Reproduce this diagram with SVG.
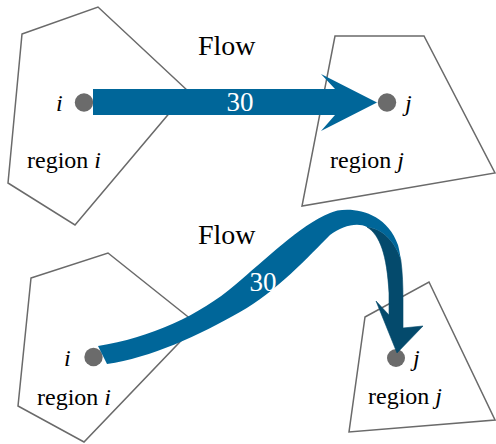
<svg xmlns="http://www.w3.org/2000/svg" width="496" height="444" viewBox="0 0 496 444">
<style>
.reg{fill:none;stroke:#6a6a6a;stroke-width:1.5;stroke-linejoin:miter}
.dot{fill:#6b6b6b}
.t{font-family:'Liberation Serif','Times New Roman',serif;fill:#000}
.it{font-style:italic}
.lbl{font-size:24px}
.flow{font-size:28px}
.num{font-family:'Liberation Serif','Times New Roman',serif;font-size:27px;fill:#fff;text-anchor:middle}
.light{fill:#006699}
.dark{fill:#044a6c}
</style>
<rect width="496" height="444" fill="#fff"/>
<g id="top-region-i">
<polygon class="reg" points="22,34 98,7 188,91 75,225 8,183"/>
<text class="t lbl" x="27" y="168">region <tspan class="it">i</tspan></text>
</g>
<g id="top-region-j">
<polygon class="reg" points="335,36 424,36 495,173 302,206"/>
<text class="t lbl" x="330" y="168">region <tspan class="it">j</tspan></text>
</g>
<g id="bottom-region-i">
<polygon class="reg" points="31,278 108,253 197,324 84,442 18,406"/>
<text class="t lbl" x="37" y="405">region <tspan class="it">i</tspan></text>
</g>
<g id="bottom-region-j">
<polygon class="reg" points="365,317 429,282 495,420 349,432"/>
<text class="t lbl" x="368" y="404">region <tspan class="it">j</tspan></text>
</g>
<text class="t flow" x="198" y="55">Flow</text>
<text class="t flow" x="198" y="244">Flow</text>
<g id="top-node-i">
<circle class="dot" cx="84" cy="102.5" r="9.2"/>
<text class="t lbl it" x="56" y="111">i</text>
</g>
<g id="top-node-j">
<circle class="dot" cx="387" cy="102.5" r="9.2"/>
<text class="t lbl it" x="405" y="111">j</text>
</g>
<g id="bottom-node-i">
<circle class="dot" cx="93.5" cy="357" r="9.2"/>
<text class="t lbl it" x="64" y="366">i</text>
</g>
<g id="bottom-node-j">
<circle class="dot" cx="396" cy="358" r="9"/>
<text class="t lbl it" x="413" y="366">j</text>
</g>
<g id="connectors">
<g id="top-flow">
<path class="light" d="M93,89 L335,89 L321,74 L377,102.5 L321,131 L335,115 L93,115 Z"/>
<text class="num" x="240" y="111">30</text>
</g>
<g id="bottom-flow">
<path class="dark" stroke="#044a6c" stroke-width="0.6" d="M367,227 C380,228 395,240 400.8,259.7 C402.5,272 403,286 403,300 L403,328 L423,326 L397,353 L376,301 L389,315 L389,293 C387,255 380,235 367,227 Z"/>
<path class="light" d="M98,346 C150,338 200,315 235,285 C265,260 300,225 330,213 C345,206 385,208 398,245 C399.2,249.5 400.1,254.5 400.8,259.7 C395,240 380,228 367,227 C357,222 342,226 330,235 C310,255 275,293 240,312 C200,335 150,358 107,364 Z"/>
<text class="num" x="263" y="291">30</text>
</g>
</g>
</svg>
